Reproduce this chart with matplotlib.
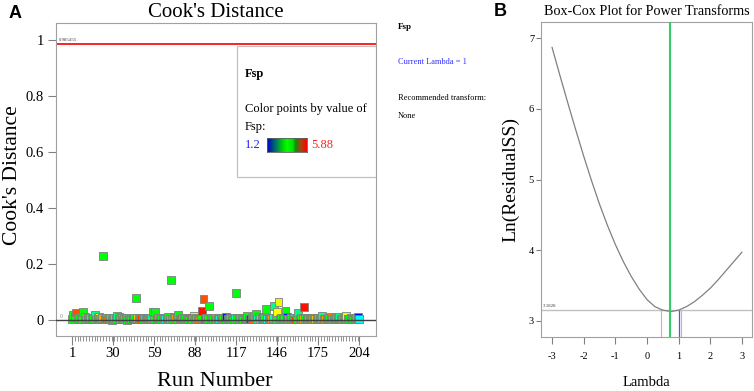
import numpy as np
import matplotlib
matplotlib.use("Agg")
import matplotlib.pyplot as plt
from matplotlib.colors import LinearSegmentedColormap, Normalize
from matplotlib.patches import Rectangle

# ---------------- data ----------------
runs = list(range(1, 205))
cooks = [
    0.004, 0.018, 0.012, 0.027, 0.006, 0.003, 0.008, 0.005, 0.030, 0.010,
    0.002, 0.006, 0.004, 0.007, 0.003, 0.005, 0.018, 0.002, 0.006, 0.010,
    0.004, 0.007, 0.228, 0.003, 0.006, 0.002, 0.005, 0.008, 0.001, 0.004,
    0.006, 0.003, 0.015, 0.012, 0.005, 0.007, 0.002, 0.004, 0.006, 0.001,
    0.003, 0.005, 0.002, 0.004, 0.007, 0.078, 0.006, 0.003, 0.008, 0.005,
    0.002, 0.009, 0.004, 0.006, 0.003, 0.005, 0.007, 0.028, 0.004, 0.028,
    0.003, 0.006, 0.002, 0.005, 0.004, 0.007, 0.003, 0.006, 0.010, 0.005,
    0.143, 0.004, 0.012, 0.006, 0.003, 0.018, 0.005, 0.002, 0.007, 0.004,
    0.006, 0.003, 0.005, 0.002, 0.008, 0.004, 0.015, 0.006, 0.003, 0.005,
    0.002, 0.006, 0.032, 0.075, 0.004, 0.007, 0.003, 0.050, 0.005, 0.008,
    0.003, 0.006, 0.002, 0.005, 0.004, 0.007, 0.003, 0.006, 0.004, 0.012,
    0.005, 0.003, 0.007, 0.004, 0.002, 0.006, 0.095, 0.005, 0.003, 0.007,
    0.004, 0.002, 0.006, 0.008, 0.015, 0.005, 0.003, 0.007, 0.004, 0.010,
    0.023, 0.005, 0.012, 0.003, 0.006, 0.004, 0.008, 0.040, 0.005, 0.003,
    0.007, 0.004, 0.006, 0.050, 0.003, 0.030, 0.065, 0.005, 0.008, 0.004,
    0.006, 0.032, 0.012, 0.005, 0.003, 0.007, 0.004, 0.006, 0.002, 0.005,
    0.027, 0.004, 0.007, 0.003, 0.047, 0.006, 0.004, 0.005, 0.002, 0.008,
    0.003, 0.006, 0.004, 0.005, 0.007, 0.003, 0.006, 0.014, 0.004, 0.005,
    0.002, 0.006, 0.008, 0.010, 0.004, 0.005, 0.003, 0.007, 0.006, 0.010,
    0.004, 0.005, 0.008, 0.006, 0.014, 0.004, 0.003, 0.006, 0.005, 0.002,
    0.004, 0.006, 0.012, 0.003,
]
fsp = [
    3.5, 3.6, 3.4, 5.5, 5.2, 3.5, 2.9, 3.6, 3.5, 3.7,
    3.4, 5.3, 3.6, 2.8, 3.5, 3.5, 2.9, 3.6, 3.5, 4.8,
    3.5, 5.1, 3.5, 3.6, 3.4, 5.4, 3.5, 3.7, 2.4, 3.6,
    2.8, 3.5, 2.9, 3.6, 3.5, 5.2, 3.4, 3.6, 3.5, 3.5,
    3.7, 2.6, 3.5, 1.6, 3.5, 3.5, 5.0, 3.6, 3.4, 5.6,
    3.5, 2.2, 3.6, 3.5, 5.4, 3.4, 2.8, 3.5, 3.6, 3.5,
    3.5, 5.3, 3.6, 3.4, 4.9, 3.5, 2.5, 3.6, 3.5, 3.7,
    3.5, 3.4, 3.5, 5.2, 3.6, 3.5, 3.4, 5.5, 3.6, 3.5,
    3.5, 5.1, 3.4, 3.6, 5.7, 3.5, 4.6, 3.6, 3.4, 3.5,
    5.3, 3.6, 5.8, 5.5, 1.4, 3.5, 3.6, 3.5, 2.7, 2.4,
    3.6, 5.2, 3.5, 3.4, 2.6, 3.5, 5.0, 3.6, 3.5, 1.3,
    3.5, 2.3, 3.6, 3.4, 3.5, 2.7, 3.5, 3.6, 3.4, 3.5,
    2.5, 3.6, 3.5, 3.4, 3.5, 3.6, 1.5, 3.5, 5.4, 3.5,
    3.5, 2.8, 3.4, 2.4, 3.6, 3.5, 3.5, 3.5, 2.5, 3.6,
    3.4, 5.2, 2.6, 2.9, 3.5, 4.7, 4.6, 2.3, 3.5, 3.6,
    3.5, 3.5, 1.3, 3.6, 5.3, 3.4, 3.5, 2.8, 5.6, 3.5,
    2.9, 3.5, 3.6, 5.1, 5.8, 3.4, 3.5, 3.6, 3.5, 5.3,
    3.5, 3.6, 5.0, 3.4, 3.5, 3.6, 2.9, 2.8, 3.5, 5.2,
    3.6, 3.5, 3.4, 5.3, 3.5, 2.8, 3.6, 3.5, 3.4, 2.9,
    3.5, 3.6, 5.4, 3.5, 4.6, 3.4, 3.5, 3.6, 3.5, 3.4,
    3.5, 3.6, 1.3, 2.4,
]
fsp_min, fsp_max = 1.2, 5.88
cook_threshold = 0.985455
x_ticks_a = [1, 30, 59, 88, 117, 146, 175, 204]
y_ticks_a = [0, 0.2, 0.4, 0.6, 0.8, 1]
y_ticklabels_a = ["0", "0.2", "0.4", "0.6", "0.8", "1"]

lam = [-3.0, -2.75, -2.5, -2.25, -2.0, -1.75, -1.5, -1.25, -1.0, -0.75, -0.5, -0.25,
       0.0, 0.25, 0.5, 0.75, 1.0, 1.25, 1.5, 1.75, 2.0, 2.25, 2.5, 2.75, 3.0]
ln_ss = [6.87, 6.47, 6.08, 5.70, 5.33, 4.98, 4.65, 4.35, 4.08, 3.84, 3.63, 3.45,
         3.30, 3.20, 3.15, 3.13, 3.15, 3.20, 3.27, 3.36, 3.46, 3.58, 3.71, 3.84, 3.97]
best_lambda = 0.74
current_lambda = 1.0
ci_low, ci_high = 0.44, 1.06
ci_ln_ss = 3.15
ci_label = "3.1828"
x_ticks_b = [-3, -2, -1, 0, 1, 2, 3]
y_ticks_b = [3, 4, 5, 6, 7]

# ---------------- figure ----------------
W, H = 754, 391
fig = plt.figure(figsize=(W / 100, H / 100), dpi=100)
SERIF = ["Liberation Serif", "DejaVu Serif"]
plt.rcParams["font.family"] = SERIF
plt.rcParams["axes.unicode_minus"] = False

def fx(px):
    return px / W

def fy(py):
    return 1 - py / H

GRAY = "#a0a0a0"

# ---- Panel A ----
axA = fig.add_axes([fx(56), fy(336), (376 - 56) / W, (336 - 23) / H])
point_cmap = LinearSegmentedColormap.from_list(
    "de", ["#0000ff", "#00ffff", "#00ff00", "#ffff00", "#ff0000"])
norm = Normalize(fsp_min, fsp_max)
axA.scatter(runs, cooks, c=fsp, cmap=point_cmap, norm=norm, marker="s", s=32,
            edgecolors="#7f7f7f", linewidths=0.6, zorder=3)
axA.axhline(0, color="#404040", lw=1.0, zorder=4)
axA.axhline(cook_threshold, color="#ff2020", lw=1.4, zorder=2)
axA.text(0.008, cook_threshold + 0.008, f"{cook_threshold:g}", transform=axA.get_yaxis_transform(),
         fontsize=3.5, color="#404040", va="bottom", ha="left")
axA.text(-8, 0.012, "0", fontsize=4, color="#808080", va="center", ha="left")
axA.set_xlim(-10.3, 216)
axA.set_ylim(-0.057, 1.06)
axA.set_xticks(x_ticks_a)
axA.set_xticks(list(range(1, 205, 2)), minor=True)
axA.set_yticks(y_ticks_a)
axA.set_yticklabels(y_ticklabels_a)
for sp in axA.spines.values():
    sp.set_color(GRAY)
axA.tick_params(axis="x", which="major", length=6.5, color="#808080", labelsize=10.5, pad=1.5)
axA.tick_params(axis="x", which="minor", length=3.5, color="#808080")
axA.tick_params(axis="y", which="major", length=5.5, color="#808080", labelsize=10.5, pad=3)
axA.set_title("Cook's Distance", fontsize=15, pad=4)
fig.text(fx(13), fy(175), "Cook's Distance", rotation=90, fontsize=15.5, ha="center", va="center")
fig.text(fx(215), fy(381), "Run Number", fontsize=16, ha="center", va="center")

# legend box inside A
axA.add_patch(Rectangle((0.566, 0.508), 0.434, 0.419, transform=axA.transAxes,
                        facecolor="white", edgecolor="#c0c0c0", lw=0.9, zorder=5))
axA.text(0.59, 0.837, "Fsp", transform=axA.transAxes, fontsize=9, fontweight="bold",
         va="center", ha="left", zorder=6)
axA.text(0.59, 0.725, "Color points by value of", transform=axA.transAxes, fontsize=9,
         va="center", ha="left", zorder=6)
axA.text(0.59, 0.668, "Fsp:", transform=axA.transAxes, fontsize=9, va="center", ha="left", zorder=6)
axA.text(0.59, 0.611, f"{fsp_min:g}", transform=axA.transAxes, fontsize=9, color="#2020ff",
         va="center", ha="left", zorder=6)
axA.text(0.797, 0.611, f"{fsp_max:g}", transform=axA.transAxes, fontsize=9, color="#ff2020",
         va="center", ha="left", zorder=6)
bar_cmap = LinearSegmentedColormap.from_list(
    "bar", [(0, "#0000c8"), (0.42, "#00e000"), (0.5, "#00ff00"), (0.65, "#00e000"),
            (0.72, "#108a10"), (0.86, "#b04010"), (1, "#ff0000")])
cax = axA.inset_axes([0.659, 0.588, 0.125, 0.045])
cax.imshow(np.linspace(fsp_min, fsp_max, 100)[None, :], aspect="auto", cmap=bar_cmap,
           extent=[fsp_min, fsp_max, 0, 1])
cax.set_xticks([])
cax.set_yticks([])
for sp in cax.spines.values():
    sp.set_color("#606060")
    sp.set_linewidth(0.6)
cax.set_zorder(7)

# right side text
fig.text(fx(398), fy(27), "Fsp", fontsize=6.5, fontweight="bold", va="center", ha="left")
fig.text(fx(398), fy(62), f"Current Lambda = {current_lambda:g}", fontsize=6, color="#3030ff",
         va="center", ha="left")
fig.text(fx(398), fy(98), "Recommended transform:", fontsize=6, va="center", ha="left")
fig.text(fx(398), fy(116), "None", fontsize=6, va="center", ha="left")

# ---- Panel B ----
axB = fig.add_axes([fx(541), fy(337), (752 - 541) / W, (337 - 22) / H])
axB.plot(lam, ln_ss, color="#808080", lw=0.9, zorder=3)
axB.axhline(ci_ln_ss, color="#c0c0c0", lw=1.0, zorder=2)
axB.axvline(best_lambda, color="#33cc66", lw=1.5, zorder=4)
axB.vlines([ci_low, ci_high], 2.77, ci_ln_ss, color="#ff9a9a", lw=0.8, zorder=2)
axB.vlines([current_lambda], 2.77, ci_ln_ss, color="#5050ff", lw=0.9, zorder=2)
axB.text(-3.3, ci_ln_ss + 0.03, ci_label, fontsize=3.5, color="#404040", va="bottom", ha="left")
axB.set_xlim(-3.35, 3.32)
axB.set_ylim(2.77, 7.23)
axB.set_xticks(x_ticks_b)
axB.set_yticks(y_ticks_b)
for sp in axB.spines.values():
    sp.set_color(GRAY)
axB.tick_params(axis="x", length=5, color="#808080", labelsize=7.5, pad=6)
axB.tick_params(axis="y", length=3.5, color="#808080", labelsize=7.5, pad=1.5)
axB.set_title("Box-Cox Plot for Power Transforms", fontsize=10.2, pad=5)
fig.text(fx(511), fy(180), "Ln(ResidualSS)", rotation=90, fontsize=14, ha="center", va="center")
fig.text(fx(646), fy(382), "Lambda", fontsize=10.5, ha="center", va="center")

# panel letters
fig.text(fx(15), fy(14), "A", fontsize=13, fontweight="bold", family=["Liberation Sans", "DejaVu Sans"],
         ha="center", va="center")
fig.text(fx(500), fy(12), "B", fontsize=13, fontweight="bold", family=["Liberation Sans", "DejaVu Sans"],
         ha="center", va="center")

fig.savefig("out.png", dpi=100)
